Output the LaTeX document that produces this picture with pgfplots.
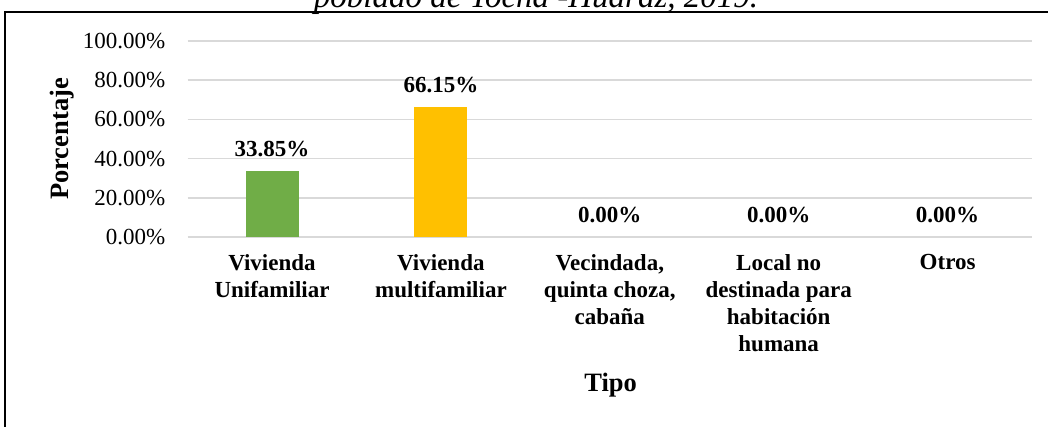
\documentclass[border=0pt]{standalone}
\usepackage{pgfplots}
\pgfplotsset{compat=1.18}
\usepackage{fontspec}
\setmainfont{Liberation Serif}
\definecolor{barGreen}{RGB}{112,173,71}
\definecolor{barYellow}{RGB}{255,192,0}
\definecolor{gridGray}{RGB}{217,217,217}
\newcommand{\chartfont}{\fontsize{23}{27}\selectfont}
\newcommand{\titlefont}{\fontsize{26.5}{30}\selectfont}
\begin{document}
\begin{tikzpicture}[x=1pt,y=1pt]
\path[use as bounding box, clip] (0,0) rectangle (1048,427);
\node[anchor=base, font=\fontsize{33}{38}\selectfont\itshape, inner sep=0pt] at (536,419) {poblado de Tocña -Huaraz, 2019.};
\draw[line width=1.5pt] (5,-20) -- (5,415) -- (1100,415);
\begin{axis}[
  at={(272pt,190pt)}, anchor=origin,
  scale only axis, width=844.5pt, height=196pt,
  xmin=-0.5, xmax=4.5, ymin=0, ymax=100,
  ybar, bar width=53pt, bar shift=0pt,
  axis line style={draw=none},
  major tick length=0pt,
  ymajorgrids, grid style={color=gridGray, line width=1.5pt},
  ytick={0,20,40,60,80,100},
  yticklabels={0.00\%,20.00\%,40.00\%,60.00\%,80.00\%,100.00\%},
  yticklabel style={font=\chartfont, anchor=east, inner sep=0pt, xshift=-22pt},
  xtick={0,1,2,3,4},
  xticklabels={{Vivienda\\Unifamiliar}, {Vivienda\\multifamiliar}, {Vecindada,\\quinta choza,\\cabaña}, {Local no\\destinada para\\habitación\\humana}, {Otros}},
  xticklabel style={font=\chartfont\bfseries, align=center, anchor=north, inner sep=0pt, yshift=-17pt},
  ylabel={Porcentaje},
  ylabel style={font=\titlefont\bfseries, at={(axis description cs:-0.1486,0.5)}, anchor=center},
  xlabel={Tipo},
  xlabel style={font=\titlefont\bfseries, at={(axis description cs:0.501,-0.755)}, anchor=center},
  nodes near coords={\pgfmathprintnumber[fixed,zerofill,precision=2,assume math mode=true]{\pgfplotspointmeta}\%},
  nodes near coords style={font=\chartfont\bfseries, anchor=south, inner sep=0pt, yshift=14pt, text=black},
  clip=false,
]
\addplot[fill=barGreen, draw=none] coordinates {(0,33.85)};
\addplot[fill=barYellow, draw=none] coordinates {(1,66.15)};
\addplot[fill=none, draw=none] coordinates {(2,0) (3,0) (4,0)};
\end{axis}
\end{tikzpicture}
\end{document}
